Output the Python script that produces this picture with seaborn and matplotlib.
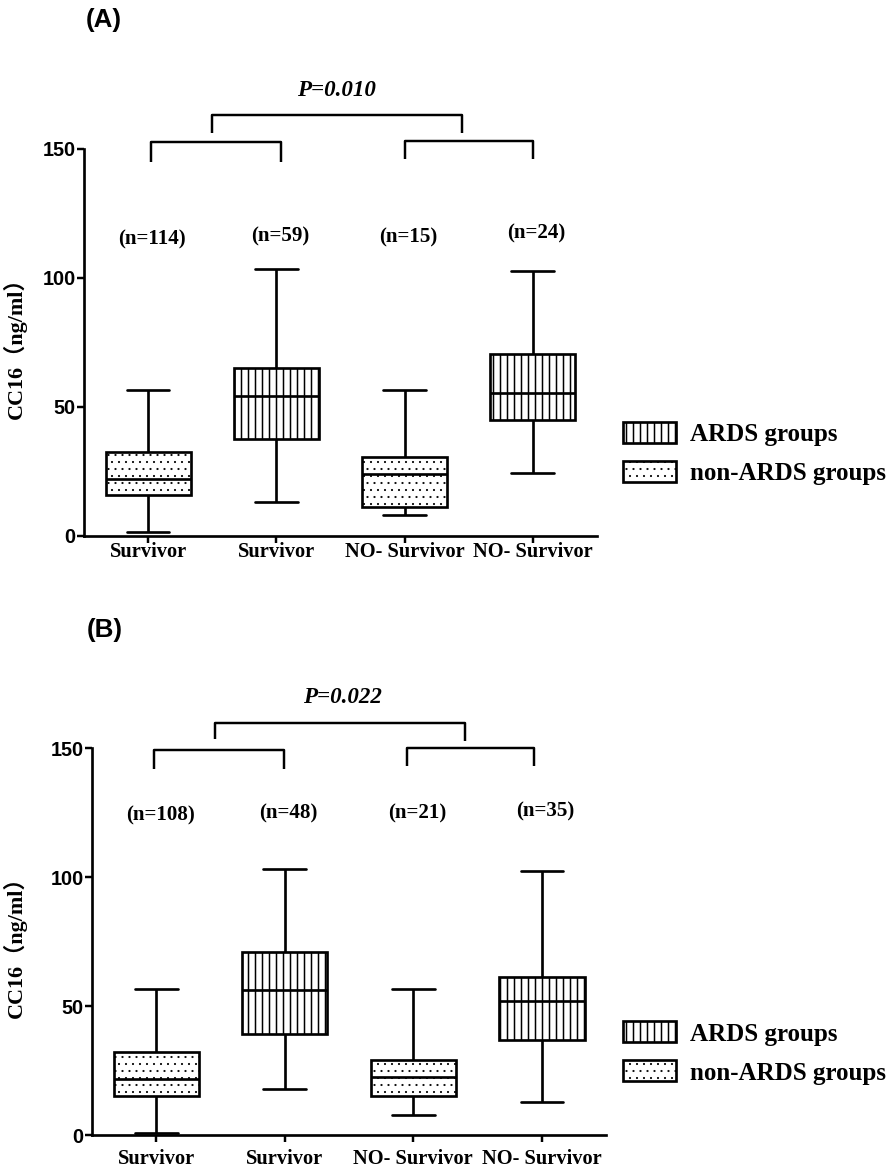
import numpy as np
import pandas as pd
import matplotlib
matplotlib.use("Agg")
import matplotlib.pyplot as plt
import seaborn as sns
from matplotlib.patches import Patch

# ---------------- data ----------------
groups = ["g1", "g2", "g3", "g4"]
tick_labels = ["Survivor", "Survivor", "NO- Survivor", "NO- Survivor"]
kinds = ["non-ARDS groups", "ARDS groups", "non-ARDS groups", "ARDS groups"]
legend_order = ["ARDS groups", "non-ARDS groups"]

# panel A five-number summaries (min, Q1, median, Q3, max)
a_low = [1.2, 12.9, 7.9, 24.4]
a_q1 = [15.8, 37.5, 11.0, 44.8]
a_med = [22.0, 54.1, 23.8, 55.2]
a_q3 = [32.3, 65.1, 30.6, 70.3]
a_high = [56.5, 103.2, 56.5, 102.6]
a_n = [114, 59, 15, 24]
a_p = "P=0.010"

# panel B five-number summaries
b_low = [0.9, 17.8, 7.8, 12.7]
b_q1 = [15.1, 39.1, 15.1, 36.8]
b_med = [21.7, 56.0, 22.4, 51.9]
b_q3 = [32.3, 70.8, 29.1, 61.4]
b_high = [56.5, 103.0, 56.5, 102.3]
b_n = [108, 48, 21, 35]
b_p = "P=0.022"

hatches = {"ARDS groups": "||", "non-ARDS groups": ".."}
hatch_lw = {"ARDS groups": 1.3, "non-ARDS groups": 0.6}


def make_df(low, q1, med, q3, high):
    rows = []
    for g, k, a, b, c, d, e in zip(groups, kinds, low, q1, med, q3, high):
        for v in (a, b, c, d, e):
            rows.append({"group": g, "kind": k, "value": v})
    return pd.DataFrame(rows)


# ---------------- style ----------------
DPI = 84
sns.set_style("ticks")
plt.rcParams["font.family"] = ["Liberation Serif", "Noto Sans CJK SC", "DejaVu Sans"]
plt.rcParams["hatch.linewidth"] = 1.0
plt.rcParams["hatch.color"] = "black"
for key in ("text.color", "axes.labelcolor", "xtick.color", "ytick.color",
            "axes.edgecolor"):
    plt.rcParams[key] = "black"

LW = 2.3
SERIF = ["Liberation Serif", "Noto Sans CJK SC", "DejaVu Sans"]
SANS = ["Liberation Sans", "DejaVu Sans"]

fig = plt.figure(figsize=(893.2 / DPI, 1165.2 / DPI), dpi=DPI)
fig.patch.set_facecolor("white")

axA = fig.add_axes([84 / 893, 1 - 535.7 / 1165, 512.7 / 893, 387 / 1165])
axB = fig.add_axes([92 / 893, 1 - 1135 / 1165, 514 / 893, 387 / 1165])


def style_hatch(patch, kind):
    patch.set_hatch(hatches[kind])
    if hasattr(patch, "set_hatch_linewidth"):
        try:
            patch.set_hatch_linewidth(hatch_lw[kind])
        except Exception:
            pass


def draw_panel(ax, df, ns, n_y, ptext, p_xy, brackets, ylabel_x, legend_x):
    sns.boxplot(
        data=df, x="group", y="value", hue="kind", order=groups,
        hue_order=legend_order,
        palette={"ARDS groups": "white", "non-ARDS groups": "white"},
        dodge=False, width=0.664, whis=(0, 100), linecolor="black",
        linewidth=LW, legend=False, ax=ax, saturation=1,
    )
    for patch in ax.patches:
        verts = patch.get_path().vertices
        idx = int(round(verts[:, 0].mean()))
        idx = min(max(idx, 0), 3)
        style_hatch(patch, kinds[idx])
        patch.set_edgecolor("black")

    ax.set_xlim(-0.5, 3.5)
    ax.set_ylim(0, 150)
    ax.set_yticks([0, 50, 100, 150])
    ax.set_xticks(range(4))
    ax.set_xticklabels(tick_labels, fontsize=17.5, fontweight="bold",
                       family=SERIF, color="black")
    for lab in ax.get_yticklabels():
        lab.set_fontfamily(SANS)
        lab.set_fontweight("bold")
        lab.set_fontsize(17)
        lab.set_color("black")
    ax.tick_params(axis="both", width=2.1, length=6, color="black")
    ax.tick_params(axis="y", pad=1)
    sns.despine(ax=ax)
    for s in ("left", "bottom"):
        ax.spines[s].set_linewidth(2.3)
        ax.spines[s].set_color("black")
    ax.set_xlabel("")
    ax.set_ylabel("CC16（ng/ml）", fontsize=19, fontweight="bold", family=SERIF,
                  color="black")
    ax.yaxis.set_label_coords(ylabel_x, 0.5)

    for i, (n, yy) in enumerate(zip(ns, n_y)):
        ax.text(i + 0.03, yy, f"(n={n})", ha="center", va="center",
                fontsize=18, fontweight="bold", family=SERIF, clip_on=False,
                color="black")

    for (x0, x1, y, d0, d1) in brackets:
        ax.plot([x0, x0, x1, x1], [d0, y, y, d1], color="black", lw=2.1,
                clip_on=False, solid_capstyle="butt")
    ax.text(p_xy[0], p_xy[1], ptext, ha="center", va="center", fontsize=19.7,
            fontweight="bold", style="italic", family=SERIF, clip_on=False,
            color="black")

    handles = []
    for k in legend_order:
        h = Patch(facecolor="white", edgecolor="black", hatch=hatches[k],
                  linewidth=LW, label=k)
        handles.append(h)
    leg = ax.legend(handles=handles, loc="center left",
                    bbox_to_anchor=(legend_x, 0.212),
                    frameon=False, handlelength=2.12, handleheight=0.92,
                    handletextpad=0.56, labelspacing=0.6, borderpad=0,
                    borderaxespad=0,
                    prop={"family": SERIF, "weight": "bold", "size": 21.4})
    for h, k in zip(leg.get_patches(), legend_order):
        style_hatch(h, k)
    for t in leg.get_texts():
        t.set_color("black")


draw_panel(
    axA, make_df(a_low, a_q1, a_med, a_q3, a_high), a_n,
    [115, 116, 115.5, 117], a_p, (1.47, 172.7),
    [(0.02, 1.04, 152.5, 144.7, 144.7),
     (2.0, 3.0, 153.1, 145.9, 145.9),
     (0.50, 2.45, 163.0, 156.2, 156.2)],
    ylabel_x=-0.111, legend_x=1.051,
)
axA.tick_params(axis="x", pad=-1)

draw_panel(
    axB, make_df(b_low, b_q1, b_med, b_q3, b_high), b_n,
    [124, 124.8, 124.8, 125.6], b_p, (1.45, 169.8),
    [(-0.02, 0.99, 149.2, 141.9, 141.9),
     (1.95, 2.94, 149.9, 143.1, 143.1),
     (0.46, 2.40, 159.8, 153.5, 152.8)],
    ylabel_x=-0.126, legend_x=1.033,
)
axB.tick_params(axis="x", pad=6)

fig.text(104 / 893, 1 - 20 / 1165, "(A)", ha="center", va="center",
         fontsize=22.3, fontweight="bold", family=SANS, color="black")
fig.text(105 / 893, 1 - 630 / 1165, "(B)", ha="center", va="center",
         fontsize=22.3, fontweight="bold", family=SANS, color="black")

fig.savefig("out.png", dpi=DPI, facecolor="white")
